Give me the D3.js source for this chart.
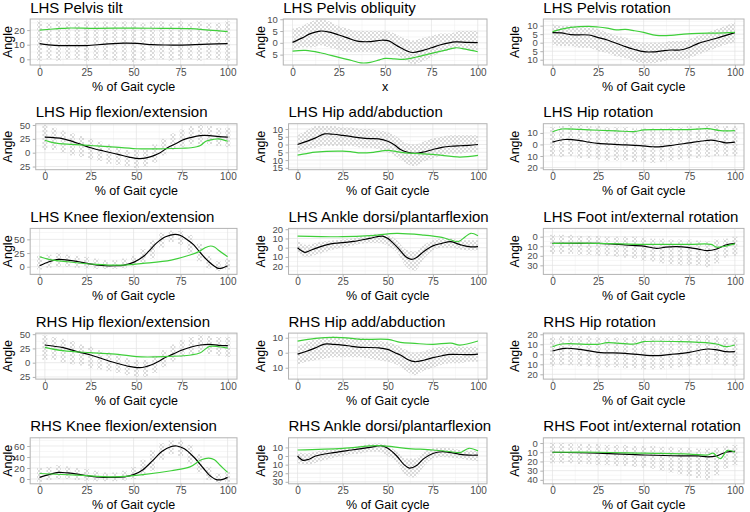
<!DOCTYPE html>
<html><head><meta charset="utf-8">
<script src="https://cdn.jsdelivr.net/npm/d3@7"></script>
<style>
body{margin:0;background:#fff}
svg{display:block}
text{font-family:"Liberation Sans",Arial,Helvetica,sans-serif}
</style>
</head><body>
<svg id="c" width="750" height="512"></svg>
<script>
const panelTitles = [
  "LHS Pelvis tilt","LHS Pelvis obliquity","LHS Pelvis rotation",
  "LHS Hip flexion/extension","LHS Hip add/abduction","LHS Hip rotation",
  "LHS Knee flexion/extension","LHS Ankle dorsi/plantarflexion","LHS Foot int/external rotation",
  "RHS Hip flexion/extension","RHS Hip add/abduction","RHS Hip rotation",
  "RHS Knee flexion/extension","RHS Ankle dorsi/plantarflexion","RHS Foot int/external rotation"
];
const xAxisTitles = ["% of Gait cycle","x","% of Gait cycle","% of Gait cycle","% of Gait cycle","% of Gait cycle",
  "% of Gait cycle","% of Gait cycle","% of Gait cycle","% of Gait cycle","% of Gait cycle","% of Gait cycle",
  "% of Gait cycle","% of Gait cycle","% of Gait cycle"];
const yAxisTitle = "Angle";
const xTicks = [0,25,50,75,100];
const xDomain = [-5,105];
const yTicks = [
  [0,10,20],[-5,0,5,10],[-10,-5,0,5,10],
  [-25,0,25,50],[-15,-10,-5,0,5,10],[-20,-10,0,10],
  [0,25,50],[-20,-10,0,10,20],[-30,-20,-10,0],
  [-25,0,25,50],[-10,0,10],[-20,-10,0,10,20],
  [0,20,40,60],[-30,-20,-10,0,10],[-40,-30,-20,-10,0]
];
const yLimits = [
  [-3.9,27.6],[-9.4,10.1],[-13.1,13.9],
  [-30.7,52.3],[-16.2,13.4],[-21.9,18],
  [-14,70],[-28.9,20.9],[-39.5,8.7],
  [-28.8,51.9],[-17.6,13.1],[-24.8,21.2],
  [-8.7,74.9],[-32.3,21.2],[-44.3,5.7]
];
// grey observations: spread per % of gait cycle
const spreadX = [0,5,10,15,20,25,30,35,40,45,50,55,60,65,70,75,80,85,90,95,100];
const spreadLo = [
  [-1,0,-1,0,0,-1,0,0,-1,-1,-2,-1,0,0,-1,0,0,-1,0,0,-1],
  [-3,-2,-2,-1,-2,-3,-4,-4,-4,-4,-5,-5,-7,-9,-8,-6,-4,-3,-2,-3,-3],
  [-1,-2,-2,-3,-3,-5,-6,-8,-9,-11,-12,-12,-11,-10,-10,-9,-7,-5,-3,-1,0],
  [5,5,0,-5,-8,-12,-15,-20,-22,-25,-28,-25,-18,-5,5,10,15,15,15,12,10],
  [-5,-3,-2,-1,-1,-1,-1,-2,-2,-3,-5,-8,-12,-14,-11,-9,-7,-6,-6,-5,-5],
  [-10,-11,-10,-12,-12,-13,-14,-14,-14,-15,-15,-16,-15,-14,-13,-12,-12,-11,-10,-10,-10],
  [-5,-2,0,0,-2,-3,-4,-4,-4,-3,0,5,15,35,45,40,25,10,-3,-8,-5],
  [-5,-10,-8,-5,-2,0,2,4,5,5,2,-5,-20,-25,-12,-3,0,0,-2,-3,-3],
  [-18,-18,-18,-19,-19,-20,-20,-21,-22,-23,-25,-26,-28,-29,-30,-30,-30,-32,-28,-22,-20],
  [5,5,0,-3,-5,-10,-12,-15,-18,-22,-25,-25,-18,-8,2,10,15,18,15,12,10],
  [-8,-6,-5,-4,-3,-3,-3,-3,-4,-5,-6,-8,-12,-15,-12,-10,-8,-7,-7,-6,-6],
  [-12,-11,-11,-12,-12,-13,-13,-13,-14,-14,-15,-15,-15,-14,-13,-12,-11,-10,-10,-11,-12],
  [-5,-2,0,0,-2,-3,-4,-4,-4,-3,0,5,15,35,45,42,28,12,-2,-7,-5],
  [-8,-10,-8,-5,-2,0,2,3,5,5,0,-8,-22,-25,-12,-3,-1,-2,-3,-5,-6],
  [-22,-22,-22,-23,-23,-24,-24,-25,-25,-26,-27,-28,-30,-32,-34,-36,-38,-40,-35,-28,-24]
];
const spreadHi = [
  [26,25,26,26,25,26,26,26,26,26,26,25,26,26,25,26,25,26,25,25,26],
  [6,7,9,10,9,7,6,5,5,5,5,4,2,1,2,3,4,4,5,5,5],
  [11,10,10,9,9,8,6,4,3,1,0,0,0,1,1,2,4,6,8,10,12],
  [50,45,40,35,30,25,20,15,10,5,5,5,15,25,35,42,48,50,48,45,45],
  [6,9,12,12,12,11,11,10,10,9,8,5,1,0,2,4,5,6,6,6,6],
  [15,16,17,17,16,16,15,15,15,14,14,14,14,15,15,16,16,17,17,16,16],
  [20,22,25,22,20,18,15,12,12,15,20,32,48,62,66,65,58,42,20,10,15],
  [8,3,5,7,8,9,10,12,14,15,14,8,-2,-4,3,8,10,10,8,8,8],
  [2,2,2,1,1,1,0,0,0,0,-1,-2,-2,-3,-3,-3,-4,-5,-3,-2,0],
  [48,45,42,38,32,28,22,18,13,8,5,5,12,22,32,40,45,48,47,45,45],
  [4,7,9,10,11,10,10,10,9,8,7,5,2,0,1,3,4,4,4,4,4],
  [17,18,18,18,18,17,17,17,17,18,18,18,18,18,19,19,19,19,18,17,17],
  [20,22,25,23,20,18,15,12,12,15,22,35,52,65,70,70,62,45,22,10,15],
  [5,3,5,7,8,9,10,12,14,15,12,5,-3,-3,5,9,10,9,7,6,6],
  [0,0,0,-1,-1,-1,-2,-2,-2,-3,-3,-3,-4,-4,-5,-5,-6,-6,-5,-3,-2]
];
// black curve
const meanCurves = [
  [[0,10.8],[8,9.6],[15,9.4],[25,9.4],[35,10.4],[45,11.1],[52,10.9],[60,10.0],[67,9.8],[80,9.9],[90,10.4],[100,10.8]],
  [[0,0.2],[5,2],[10,4],[15,5.0],[20,4.5],[25,3.3],[30,2],[35,0.7],[42,0.5],[48,1.1],[52,0.8],[57,-1.5],[62,-3.5],[65,-4.1],[70,-3.3],[75,-2.1],[80,-0.8],[88,0.4],[94,0.2],[100,0.1]],
  [[0,5.9],[5,5.7],[10,4.7],[20,4.5],[25,3],[30,1.6],[40,-2.3],[45,-4],[50,-5.3],[55,-5.4],[60,-4.8],[65,-4.3],[70,-4.3],[75,-2.8],[80,-0.4],[90,2.6],[100,5.9]],
  [[0,27.9],[10,25],[18,17],[25,8.9],[32,3],[40,-3],[46,-8],[52,-10.7],[58,-7],[63,0],[67,8.9],[72,17],[75,22.5],[80,27.5],[85,30.9],[90,30.9],[95,29],[100,27.9]],
  [[0,0],[5,2],[10,4.3],[15,6.8],[20,6.6],[25,5.9],[30,5.1],[35,4.3],[40,3.8],[45,3.6],[50,2.1],[54,-0.5],[57,-3.2],[61,-5],[65,-5.7],[70,-4.8],[75,-3.2],[80,-1.8],[85,-1.1],[90,-0.8],[95,-0.6],[100,0]],
  [[0,2],[7,4.3],[15,3.4],[20,2],[25,0.9],[32,0.2],[40,-0.3],[48,-1],[55,-2],[60,-1.8],[65,-0.9],[75,1.4],[82,3],[87,3.7],[91,2.8],[95,1.4],[100,2]],
  [[0,1.8],[5,9.1],[10,13.4],[15,12.2],[20,9.5],[25,6.1],[30,3.5],[35,1.8],[40,1.8],[45,3],[50,8],[55,18.2],[58,28],[62,42.6],[67,54.7],[72,59.1],[75,57],[78,50.6],[82,40],[85,27.4],[88,16],[90,9.1],[93,1],[95,-3],[97,-2.5],[100,1.8]],
  [[0,0],[2,-3],[4,-5],[7,-3],[10,-0.7],[15,2.5],[20,4.7],[30,6.5],[40,10.1],[47,12.6],[50,10.1],[53,5],[56,-1],[60,-9.7],[63,-12.6],[66,-10.5],[70,-4],[75,2],[80,4.7],[85,6.5],[90,3.4],[95,1.1],[100,1.1]],
  [[0,-6.9],[15,-6.9],[25,-6.9],[32,-7.5],[40,-8.7],[50,-9.8],[57,-12.2],[62,-11],[68,-10.5],[75,-11.5],[80,-13],[85,-14.6],[90,-12.9],[95,-8.7],[100,-6.9]],
  [[0,31],[10,26.3],[18,19],[25,13.5],[35,3],[45,-5.8],[52,-8.8],[58,-4],[62,2],[65,7.7],[70,15],[75,22.3],[80,27.5],[85,31],[90,32.2],[95,30.5],[100,29.8]],
  [[0,-0.9],[5,1],[10,3.3],[15,5.8],[20,5.6],[25,5.1],[30,4.3],[35,3.6],[45,3.3],[50,2.2],[54,0],[57,-1.5],[61,-4.5],[65,-6],[70,-5],[75,-3.3],[80,-2],[85,-1.1],[95,-1.3],[100,-0.9]],
  [[0,3.3],[7,6],[15,5],[25,2],[40,1],[55,-1.4],[65,0],[75,2],[85,5.3],[90,4.5],[95,2.6],[100,2.6]],
  [[0,3],[5,8],[10,12],[15,11],[20,9],[25,6],[30,4],[40,3],[45,4],[50,8],[55,17],[60,33],[65,50],[70,59],[73,60],[77,55],[82,40],[87,20],[90,8],[94,-1],[97,-1],[100,3]],
  [[0,0],[3,-5],[6,-4],[10,0],[20,4],[30,7],[40,10],[46,12],[50,9],[55,0],[59,-10],[62,-14],[66,-11],[70,-3],[75,3],[80,5],[85,4],[90,2],[95,1],[100,1]],
  [[0,-10],[25,-11],[50,-13],[70,-14],[80,-14],[85,-15],[90,-14],[95,-10],[100,-9]]
];
// green curve
const normCurves = [
  [[0,20],[10,21],[15,21.4],[30,21.2],[50,21.4],[65,21.2],[80,21],[90,20],[100,19]],
  [[0,-3.5],[7,-3.2],[15,-4.2],[25,-6.2],[32,-7.5],[37,-8.5],[42,-8.3],[47,-7.2],[50,-6.6],[55,-6.8],[60,-7],[67,-6],[75,-4.5],[82,-3.2],[88,-2.1],[94,-2.8],[100,-3.8]],
  [[0,6.5],[5,8],[10,9],[20,9.6],[25,9.2],[30,8.5],[35,7.5],[40,7.8],[45,7],[50,6],[57,4.3],[65,4.3],[72,5],[80,5.5],[90,5.6],[100,6]],
  [[0,22.5],[5,17.8],[15,15],[25,13],[35,11],[50,7.1],[65,7.1],[75,8],[80,8.9],[85,13],[88,20.7],[92,24],[95,25],[100,20.7]],
  [[0,-6.8],[5,-5.8],[10,-4.9],[25,-4.3],[30,-4.7],[35,-5.4],[42,-5],[50,-3.8],[55,-4.6],[60,-5.4],[75,-6.4],[90,-8.1],[100,-7]],
  [[0,11],[5,13.4],[15,13],[25,12.3],[35,11.8],[45,11.1],[50,12.6],[60,12.8],[75,12.9],[85,13.7],[92,12],[100,12]],
  [[0,18.2],[5,13.4],[15,9.1],[30,4.4],[45,3],[55,6.1],[70,12.2],[80,21.4],[85,28],[88,34.7],[91,37.9],[93,36],[95,30.7],[100,18.2]],
  [[0,12.6],[25,11.9],[40,13],[55,15.6],[70,13.7],[80,11.2],[85,8.3],[89,6.5],[93,11.9],[96,15.6],[100,13]],
  [[0,-6.9],[25,-6.9],[50,-8],[75,-8],[87,-8],[90,-11],[95,-9.8],[100,-7.6]],
  [[0,27],[10,21],[25,17.5],[40,14.7],[50,10.5],[65,10.5],[80,13.5],[85,17.5],[90,28.7],[95,28],[100,25.7]],
  [[0,7.8],[10,9.6],[20,10.2],[30,9.6],[35,8.9],[50,8.9],[57,6.9],[65,6.2],[75,5.6],[85,6.4],[90,5.1],[100,7.8]],
  [[0,7.6],[5,10.3],[25,10],[30,11.6],[45,10.3],[50,12.6],[70,12.6],[80,12],[90,10.3],[95,7.6],[100,9.3]],
  [[0,10],[20,7],[40,4],[55,8],[70,15],[80,22],[86,35],[90,38],[93,35],[96,25],[100,12]],
  [[0,7],[25,9],[45,12],[60,9],[75,7],[85,5],[90,4],[95,9],[100,6]],
  [[0,-10],[25,-10],[50,-11],[75,-12],[85,-13],[88,-11],[92,-17],[96,-8],[100,-10]]
];

// ---------- rendering ----------
const svg = d3.select("#c");
svg.append("rect").attr("width",750).attr("height",512).attr("fill","#fff");
const defs = svg.append("defs");
const pat = defs.append("pattern").attr("id","dots").attr("patternUnits","userSpaceOnUse")
  .attr("width",4).attr("height",4);
pat.append("circle").attr("cx",1).attr("cy",1).attr("r",0.95).attr("fill","#cbcbcb");
pat.append("circle").attr("cx",3).attr("cy",3).attr("r",0.95).attr("fill","#cbcbcb");

const bandPanels = new Set([1,2,4,7,10,13]);
const colBase = [18.8,271.6,526.4];
const colRight = [237,487,744];
const rowTop0 = 19, rowStep = 104.7, panelH = 46;

const measure = svg.append("text").style("font-size","9.5px").attr("visibility","hidden");
function textW(s){ measure.text(s); return measure.node().getComputedTextLength(); }
const minusW = textW("\u2212");

panelTitles.forEach((title,i)=>{
  const r = Math.floor(i/3), c = i%3;
  const labW = d3.max(yTicks[i], t => textW(String(Math.abs(t))) + (t<0 ? minusW : 0));
  const left = colBase[c] + labW + 0.8, right = colRight[c];
  const top = rowTop0 + r*rowStep, bottom = top + panelH;
  const x = d3.scaleLinear().domain(xDomain).range([left,right]);
  const y = d3.scaleLinear().domain(yLimits[i]).range([bottom,top]);
  const g = svg.append("g");

  g.append("rect").attr("x",left).attr("y",top).attr("width",right-left).attr("height",bottom-top).attr("fill","#fff");

  // minor grid
  const xMinor = [];
  for(let k=0;k<xTicks.length-1;k++) xMinor.push((xTicks[k]+xTicks[k+1])/2);
  const yt = yTicks[i], step = yt[1]-yt[0];
  const yMinor = [];
  for(let k=0;k<yt.length-1;k++) yMinor.push((yt[k]+yt[k+1])/2);
  if (yt[0]-step/2 > yLimits[i][0]) yMinor.unshift(yt[0]-step/2);
  if (yt[yt.length-1]+step/2 < yLimits[i][1]) yMinor.push(yt[yt.length-1]+step/2);
  g.selectAll(".xm").data(xMinor).join("line").attr("x1",d=>x(d)).attr("x2",d=>x(d)).attr("y1",top).attr("y2",bottom)
    .attr("stroke","#efefef").attr("stroke-width",0.5);
  g.selectAll(".ym").data(yMinor).join("line").attr("x1",left).attr("x2",right).attr("y1",d=>y(d)).attr("y2",d=>y(d))
    .attr("stroke","#efefef").attr("stroke-width",0.5);
  g.selectAll(".xM").data(xTicks).join("line").attr("x1",d=>x(d)).attr("x2",d=>x(d)).attr("y1",top).attr("y2",bottom)
    .attr("stroke","#e2e2e2").attr("stroke-width",0.7);
  g.selectAll(".yM").data(yt).join("line").attr("x1",left).attr("x2",right).attr("y1",d=>y(d)).attr("y2",d=>y(d))
    .attr("stroke","#e2e2e2").attr("stroke-width",0.7);

  const clipId = "clip"+i;
  defs.append("clipPath").attr("id",clipId).append("rect").attr("x",left).attr("y",top).attr("width",right-left).attr("height",bottom-top);
  const pg = g.append("g").attr("clip-path",`url(#${clipId})`);

  const spread = spreadX.map((sx,k)=>({x:sx, lo:spreadLo[i][k], hi:spreadHi[i][k]}));
  if (bandPanels.has(i)) {
    const area = d3.area().x(d=>x(d.x)).y0(d=>y(d.lo)).y1(d=>y(d.hi)).curve(d3.curveMonotoneX);
    pg.append("path").attr("d",area(spread)).attr("fill","url(#dots)");
  } else {
    pg.selectAll(".col").data(spread).join("rect")
      .attr("x",d=>x(d.x)-2.5).attr("width",5)
      .attr("y",d=>y(d.hi)).attr("height",d=>y(d.lo)-y(d.hi))
      .attr("fill","url(#dots)");
  }

  const line = d3.line().x(d=>x(d[0])).y(d=>y(d[1])).curve(d3.curveCatmullRom.alpha(0.5));
  pg.append("path").attr("d",line(meanCurves[i])).attr("fill","none").attr("stroke","#000").attr("stroke-width",1.2);
  pg.append("path").attr("d",line(normCurves[i])).attr("fill","none").attr("stroke","#3fcf3a").attr("stroke-width",1.2);

  g.append("rect").attr("x",left).attr("y",top).attr("width",right-left).attr("height",bottom-top)
    .attr("fill","none").attr("stroke","#b3b3b3").attr("stroke-width",1);

  // axes
  const ax = g.append("g").attr("transform",`translate(0,${bottom})`)
    .call(d3.axisBottom(x).tickValues(xTicks).tickSize(3).tickPadding(0.5));
  const ay = g.append("g").attr("transform",`translate(${left},0)`)
    .call(d3.axisLeft(y).tickValues(yt).tickFormat(d=>String(Math.abs(d))).tickSize(3).tickPadding(2.5));
  [ax,ay].forEach(a=>{
    a.select(".domain").remove();
    a.selectAll("line").attr("stroke","#b3b3b3");
    a.selectAll("text").attr("fill","#4d4d4d").style("font-family",'"Liberation Sans",Arial,sans-serif');
  });
  ax.selectAll("text").style("font-size","10px");
  ay.selectAll("text").style("font-size","9.5px");

  g.append("text").attr("x",left).attr("y",top-6.5).text(title)
    .style("font-size","15px").attr("fill","#000");
  g.append("text").attr("x",(left+right)/2).attr("y",bottom+25.5).attr("text-anchor","middle")
    .text(xAxisTitles[i]).style("font-size","12.5px").attr("fill","#000");
  g.append("text").attr("transform",`translate(${colBase[c]-7},${(top+bottom)/2}) rotate(-90)`)
    .attr("text-anchor","middle").text(yAxisTitle).style("font-size","12.5px").attr("fill","#000");
});
measure.remove();
</script>
</body></html>
